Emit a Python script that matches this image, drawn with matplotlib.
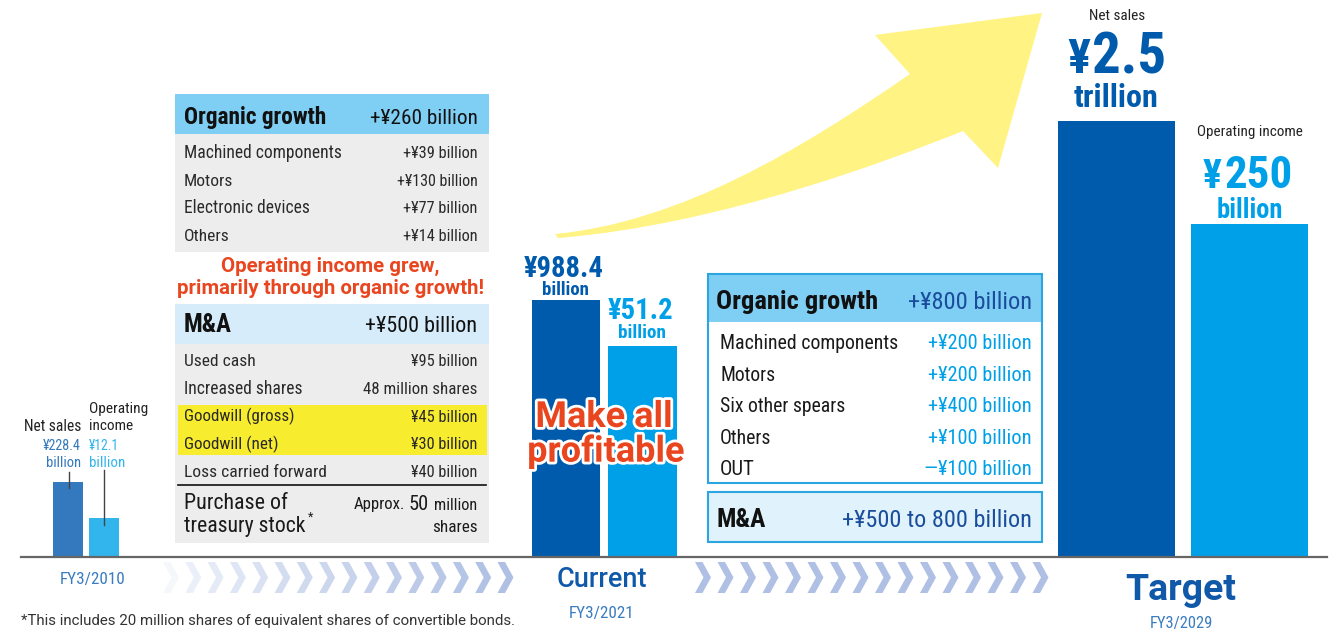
import numpy as np
import matplotlib
matplotlib.use("Agg")
import matplotlib.pyplot as plt
from matplotlib import font_manager
from matplotlib.patches import Rectangle, Polygon, PathPatch
from matplotlib.path import Path
import matplotlib.patheffects as pe

# ---- data ----
periods = ["FY3/2010", "FY3/2021", "FY3/2029"]
stages = ["", "Current", "Target"]
net_sales_labels = ["¥228.4", "¥988.4", "¥2.5"]
net_sales_units = ["billion", "billion", "trillion"]
op_income_labels = ["¥12.1", "¥51.2", "¥250"]
op_income_units = ["billion", "billion", "billion"]
# bars are schematic, heights as drawn in the picture
net_sales_bar = [74, 256, 435]
op_income_bar = [38, 210, 332]

organic_2021_total = "+¥260 billion"
organic_2021_items = ["Machined components", "Motors", "Electronic devices", "Others"]
organic_2021_values = ["+¥39 billion", "+¥130 billion", "+¥77 billion", "+¥14 billion"]

ma_2021_total = "+¥500 billion"
ma_2021_items = ["Used cash", "Increased shares", "Goodwill (gross)", "Goodwill (net)",
                 "Loss carried forward"]
ma_2021_values = ["¥95 billion", "48 million shares", "¥45 billion", "¥30 billion",
                  "¥40 billion"]

organic_2029_total = "+¥800 billion"
organic_2029_items = ["Machined components", "Motors", "Six other spears", "Others", "OUT"]
organic_2029_values = ["+¥200 billion", "+¥200 billion", "+¥400 billion", "+¥100 billion",
                       "—¥100 billion"]
ma_2029_total = "+¥500 to 800 billion"

# widths of the texts in the reference (px), used to fit the font size
w_org21_items = [157, 49, 126, 45]
w_org21_vals = [75, 81, 75, 75]
w_ma21_items = [71, 119, 111, 95, 142]
w_ma21_vals = [67, 114, 67, 67, 67]
w_org29_items = [178, 55, 125, 51, 37]
w_org29_vals = [103, 103, 103, 103, 107]

installed = {f.name for f in font_manager.fontManager.ttflist}
FONT = [n for n in ["Roboto Condensed", "Liberation Sans Narrow"] if n in installed] + ["DejaVu Sans"]
FONT_R = [n for n in ["Roboto", "Liberation Sans"] if n in installed] + ["DejaVu Sans"]
DARK = "#005BAC"
LIGHT = "#00A0E9"
RED = "#E9461F"
TXT = "#222222"

fig = plt.figure(figsize=(13.32, 6.32), dpi=100)
ax = fig.add_axes([0, 0, 1, 1])
ax.set_xlim(0, 1332)
ax.set_ylim(632, 0)
ax.axis("off")
renderer = fig.canvas.get_renderer()


def txt(x, y, s, size, color=TXT, weight="normal", ha="left", w=None, grow=1.15,
        family=None, **kw):
    t = ax.text(x, y, s, fontsize=size, color=color, fontweight=weight, ha=ha,
                va="baseline", family=family or FONT, **kw)
    if w:
        cur = t.get_window_extent(renderer).width
        t.set_fontsize(size * min(w / cur, grow))
    return t


# big yellow arrow
verts = [(555, 234), (680, 222), (800, 150), (910, 74),
         (875, 35), (1042, 13), (998, 168), (963, 131),
         (890, 160), (720, 225), (558, 238), (555, 234)]
codes = [Path.MOVETO, Path.CURVE4, Path.CURVE4, Path.CURVE4,
         Path.LINETO, Path.LINETO, Path.LINETO, Path.LINETO,
         Path.CURVE4, Path.CURVE4, Path.CURVE4, Path.CLOSEPOLY]
ax.add_patch(PathPatch(Path(verts, codes), facecolor="#FFF383", edgecolor="none", zorder=0))

# bars
baseline = 556
ns_x = [68, 566, 1116.5]
ns_w = [30, 68, 117]
oi_x = [104, 642.5, 1249.5]
oi_w = [30, 69, 117]
ns_colors = ["#3478BE", DARK, DARK]
oi_colors = ["#32B4EC", LIGHT, LIGHT]
ax.bar(ns_x, -np.array(net_sales_bar), width=ns_w, bottom=baseline, color=ns_colors, zorder=2)
ax.bar(oi_x, -np.array(op_income_bar), width=oi_w, bottom=baseline, color=oi_colors, zorder=2)
ax.plot([21, 1327], [baseline + 0.5, baseline + 0.5], color="#666666", lw=1.6, zorder=3)

# FY3/2010 labels
txt(81, 431, "Net sales", 10, ha="right", w=57)
txt(81, 450, net_sales_labels[0], 10, color="#3478BE", ha="right", w=38)
txt(81, 467, net_sales_units[0], 10, color="#3478BE", ha="right", w=35)
txt(89, 413, "Operating", 10, w=59)
txt(89, 430, "income", 10, w=44)
txt(89, 450, op_income_labels[0], 10, color="#32B4EC", w=30)
txt(89, 467, op_income_units[0], 10, color="#32B4EC", w=36)
ax.plot([69, 69], [472, 488], color="#444444", lw=1, zorder=4)
ax.plot([104, 104], [470, 525], color="#444444", lw=1, zorder=4)
txt(92.5, 584, periods[0], 12, color="#3A7CC0", ha="center", w=65)

# FY3/2021 labels
txt(564, 276.7, net_sales_labels[1], 18, color=DARK, weight="bold", ha="center", w=82)
txt(565, 295, net_sales_units[1], 12, color=DARK, weight="bold", ha="center", w=47)
txt(641, 319, op_income_labels[1], 18, color=LIGHT, weight="bold", ha="center", w=67)
txt(642, 338, op_income_units[1], 12, color=LIGHT, weight="bold", ha="center", w=48)
stroke = [pe.withStroke(linewidth=4, foreground="white")]
txt(604, 427, "Make all", 23, color=RED, weight="bold", ha="center", w=138,
    family=FONT_R, path_effects=stroke, zorder=5)
txt(606, 461.7, "profitable", 23, color=RED, weight="bold", ha="center", w=158,
    family=FONT_R, path_effects=stroke, zorder=5)
txt(602, 587, stages[1], 17, color="#1058A8", weight="medium", ha="center", w=94,
    family=FONT_R)
txt(602, 618, periods[1], 12, color="#3A7CC0", ha="center", w=65)

# FY3/2029 labels
txt(1117, 20, "Net sales", 10, ha="center", w=56)
txt(1090, 73.3, net_sales_labels[2][0], 32, color=DARK, weight="bold", ha="right", w=23)
txt(1092, 73.3, net_sales_labels[2][1:], 47, color=DARK, weight="bold", w=74)
txt(1116, 106.7, net_sales_units[2], 21, color=DARK, weight="bold", ha="center", w=85)
txt(1249.5, 136, "Operating income", 10, ha="center", w=105)
txt(1222, 188.3, op_income_labels[2][0], 25, color=LIGHT, weight="bold", ha="right", w=19)
txt(1225, 188.3, op_income_labels[2][1:], 37, color=LIGHT, weight="bold", w=68)
txt(1250, 218, op_income_units[2], 18, color=LIGHT, weight="bold", ha="center", w=66)
txt(1181, 600, stages[2], 27, color="#1058A8", weight="bold", ha="center", w=111,
    family=FONT_R)
txt(1181, 628, periods[2], 12, color="#3A7CC0", ha="center", w=63)

# left table: organic growth
L0, L1 = 175, 489
ax.add_patch(Rectangle((L0, 94), L1 - L0, 39.5, facecolor="#7FCEF3", edgecolor="none"))
ax.add_patch(Rectangle((L0, 133.5), L1 - L0, 118, facecolor="#EDEDED", edgecolor="none"))
txt(184, 124.3, "Organic growth", 16, color="#111111", weight="bold", w=143)
txt(477.5, 124.3, organic_2021_total, 16, color="#111111", ha="right", w=108)
for i, (name, val) in enumerate(zip(organic_2021_items, organic_2021_values)):
    y = 158 + i * 27.7
    txt(184, y, name, 11, color="#2A2A2A", w=w_org21_items[i])
    txt(477.5, y, val, 11, color="#2A2A2A", ha="right", w=w_org21_vals[i])

txt(330, 271.7, "Operating income grew,", 13, color=RED, weight="bold", ha="center", w=218,
    family=FONT_R)
txt(331, 294, "primarily through organic growth!", 13, color=RED, weight="bold", ha="center",
    w=308, family=FONT_R)

# left table: M&A
ax.add_patch(Rectangle((L0, 304), L1 - L0, 39.5, facecolor="#D6ECFA", edgecolor="none"))
ax.add_patch(Rectangle((L0, 343.5), L1 - L0, 199.5, facecolor="#EDEDED", edgecolor="none"))
ax.add_patch(Rectangle((178, 405), 309, 50, facecolor="#F8EC2E", edgecolor="none"))
txt(184, 332.3, "M&A", 16, color="#111111", weight="bold", w=48)
txt(477.5, 332.3, ma_2021_total, 16, color="#111111", ha="right", w=112)
for i, (name, val) in enumerate(zip(ma_2021_items, ma_2021_values)):
    y = 365.7 + i * 27.9
    txt(184, y, name, 11, color="#2A2A2A", w=w_ma21_items[i])
    txt(477.5, y, val, 11, color="#2A2A2A", ha="right", w=w_ma21_vals[i])
ax.plot([178, 486], [484.5, 484.5], color="#111111", lw=1.2)
txt(184, 509.3, "Purchase of", 15, color="#1A1A1A", w=104)
txt(184, 531.7, "treasury stock", 15, color="#1A1A1A", w=122)
txt(307.5, 521, "*", 9, color="#1A1A1A")
txt(405, 509.5, "Approx.", 10.5, color="#1A1A1A", ha="right", w=53)
txt(429, 510.5, "50", 15, color="#1A1A1A", ha="right", w=20)
txt(477.5, 510.5, "million", 11, color="#1A1A1A", ha="right", w=43)
txt(477.5, 531.7, "shares", 11, color="#1A1A1A", ha="right", w=45)

# right table: organic growth
R0, R1 = 708, 1041.7
BORDER = "#2CA6E0"
ax.add_patch(Rectangle((R0, 274), R1 - R0, 47.7, facecolor="#7FCEF3", edgecolor="none"))
ax.add_patch(Rectangle((R0, 274), R1 - R0, 208.7, facecolor="none", edgecolor=BORDER, lw=1.5))
txt(716.5, 309.3, "Organic growth", 18, color="#111111", weight="bold", w=162)
txt(1031.7, 309.3, organic_2029_total, 18, color="#1A4E9C", ha="right", w=124)
for i, (name, val) in enumerate(zip(organic_2029_items, organic_2029_values)):
    y = 349.3 + i * 31.4
    txt(720, y, name, 13, color="#1A1A1A", w=w_org29_items[i])
    txt(1031.7, y, val, 13, color=LIGHT, ha="right", w=w_org29_vals[i])

ax.add_patch(Rectangle((R0, 491.7), R1 - R0, 50, facecolor="#E0F2FB", edgecolor=BORDER, lw=1.5))
txt(716, 527.3, "M&A", 16, color="#111111", weight="bold", w=54)
txt(1031.7, 527.3, ma_2029_total, 16, color="#1A4E9C", ha="right", w=190)


# chevrons
def chevron(x0, y0, alpha):
    w, t, h = 16, 7.5, 15.5
    pts = [(x0, y0 - h), (x0 + t, y0 - h), (x0 + w, y0), (x0 + t, y0 + h),
           (x0, y0 + h), (x0 + w - t, y0)]
    ax.add_patch(Polygon(pts, closed=True, facecolor="#AFC0E4", edgecolor="none", alpha=alpha))


for k in range(16):
    chevron(163 + k * 22.3, 577.5, 0.12 + 0.88 * (k / 15) ** 0.7)
for k in range(16):
    chevron(695 + k * 22.5, 577.5, 1.0)

txt(20.7, 625, "*This includes 20 million shares of equivalent shares of convertible bonds.", 9.5,
    color="#333333", w=495, family=FONT_R)

fig.savefig("out.png", dpi=100)
